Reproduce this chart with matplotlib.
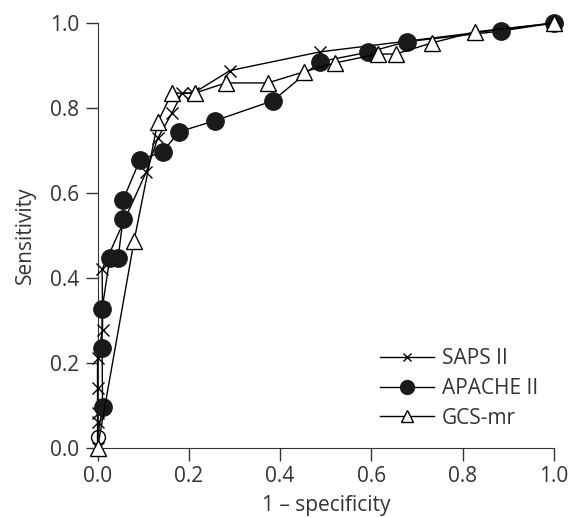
import numpy as np
import matplotlib.pyplot as plt

plt.rcParams['font.family'] = ['Open Sans', 'DejaVu Sans']

# ----------- data (1 - specificity, sensitivity) ----
saps_x = [0.0, 0.0, 0.0, 0.0, 0.0, 0.011, 0.011, 0.01, 0.107, 0.132, 0.163,
          0.185, 0.21, 0.29, 0.487, 1.0]
saps_y = [0.0, 0.06, 0.082, 0.141, 0.212, 0.278, 0.33, 0.42, 0.65, 0.729,
          0.788, 0.835, 0.835, 0.888, 0.932, 1.0]

apache_x = [0.0, 0.011, 0.01, 0.01, 0.027, 0.045, 0.056, 0.056, 0.093, 0.143,
            0.178, 0.257, 0.384, 0.487, 0.592, 0.677, 0.883, 1.0]
apache_y = [0.025, 0.097, 0.236, 0.327, 0.447, 0.447, 0.539, 0.584, 0.678,
            0.697, 0.744, 0.770, 0.817, 0.909, 0.931, 0.956, 0.981, 1.0]

gcs_x = [0.0, 0.08, 0.132, 0.163, 0.213, 0.281, 0.373, 0.452, 0.52, 0.614,
         0.653, 0.732, 0.826, 1.0]
gcs_y = [0.0, 0.487, 0.767, 0.835, 0.835, 0.859, 0.859, 0.885, 0.906, 0.927,
         0.927, 0.953, 0.979, 1.0]

ticks = [0.0, 0.2, 0.4, 0.6, 0.8, 1.0]
fs = 15
txt = '#333333'

# -------------- Plot Figure -------------------------------------------------
fig = plt.figure(figsize=(5.72, 5.17), dpi=100)
ax = fig.add_axes([0.1705, 0.1335, 0.798, 0.822])

ax.plot(saps_x, saps_y, color='black', lw=1.0, marker='x', ms=8, mew=1.0,
        label='SAPS II', clip_on=False, zorder=3)
ax.plot(apache_x, apache_y, color='black', lw=1.0, marker='o', ms=12.5,
        mfc='#1a1a1a', mec='#1a1a1a', markevery=list(range(1, len(apache_x))),
        label='APACHE II', clip_on=False, zorder=4)
ax.plot(apache_x[:1], apache_y[:1], ls='none', marker='o', ms=10, mfc='none',
        mec='black', mew=1.0, clip_on=False, zorder=4)
ax.plot(gcs_x, gcs_y, color='black', lw=1.0, marker='^', ms=11.5, mfc='white',
        mec='black', mew=1.0, label='GCS-mr', clip_on=False, zorder=5)

ax.set_xlim(0, 1)
ax.set_ylim(0, 1)
ax.set_xticks(ticks)
ax.set_yticks(ticks)
ax.set_xticklabels(['%.1f' % t for t in ticks])
ax.set_yticklabels(['%.1f' % t for t in ticks])
ax.spines['top'].set_visible(False)
ax.spines['right'].set_visible(False)
ax.spines['left'].set_color('#333333')
ax.spines['bottom'].set_color('#333333')
ax.tick_params(direction='out', length=9, width=1.0, colors='#333333',
               labelsize=fs, labelcolor=txt, pad=4)
ax.set_xlabel('1 \u2013 specificity', fontsize=fs, color=txt, labelpad=6)
ax.set_ylabel('Sensitivity', fontsize=fs, color=txt, labelpad=10)

ax.legend(loc='upper left', bbox_to_anchor=(0.618, 0.235), frameon=False,
          fontsize=fs, handlelength=2.6, handletextpad=0.4, borderpad=0,
          borderaxespad=0, labelspacing=0.42, markerscale=0.8,
          labelcolor=txt)

fig.savefig('out.png', dpi=100)
